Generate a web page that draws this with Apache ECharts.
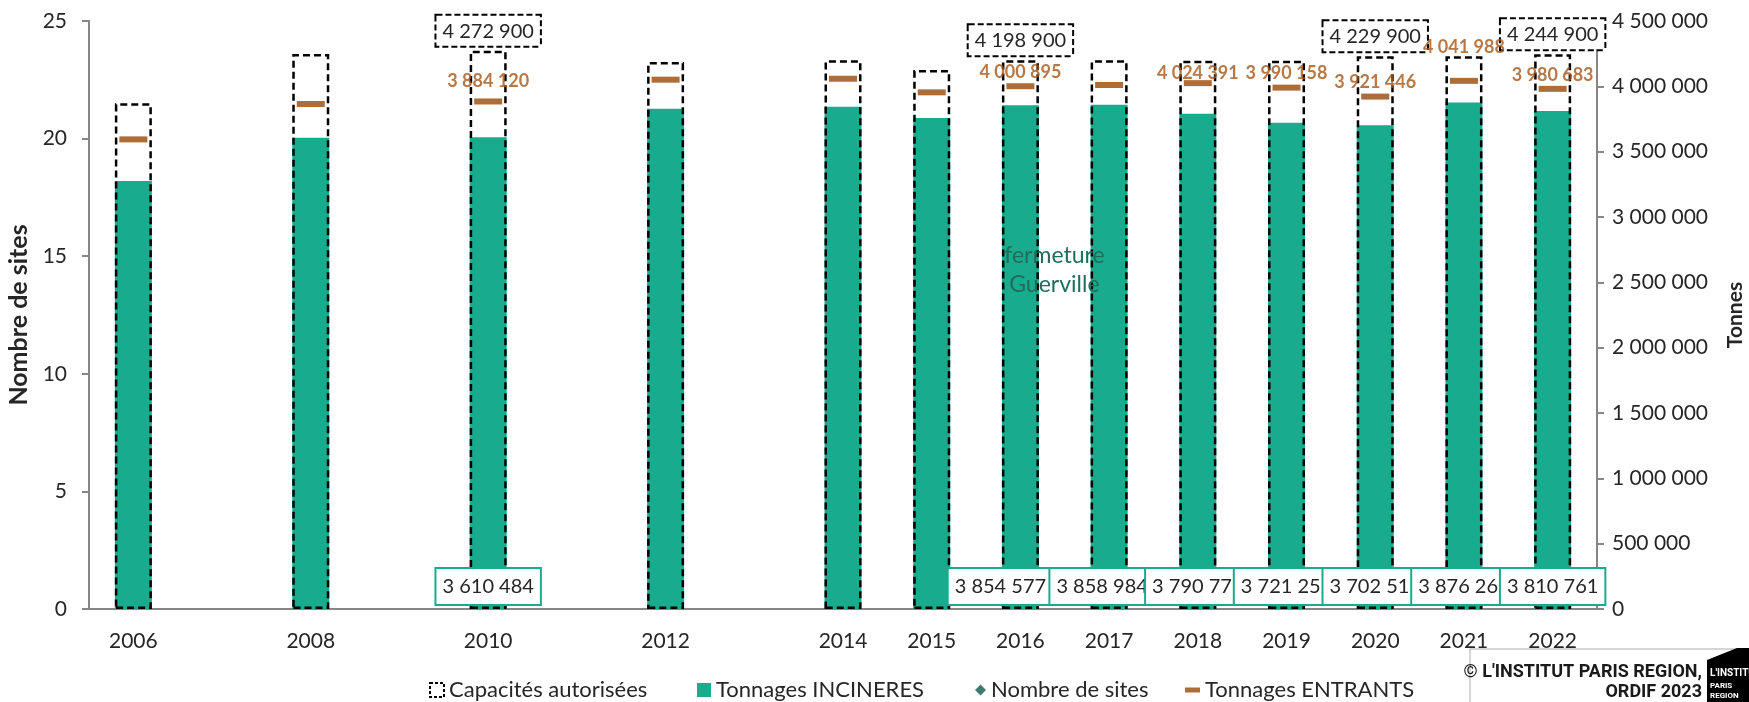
<!DOCTYPE html>
<html>
<head>
<meta charset="utf-8">
<script src="https://cdn.jsdelivr.net/npm/echarts@6/dist/echarts.min.js"></script>
<style>
  html, body { margin: 0; padding: 0; background: #fff; }
  #chart { width: 1749px; height: 702px; }
</style>
</head>
<body>
<div id="chart"></div>
<script>
// années (2007, 2009, 2011, 2013 : pas de données)
const years = ['2006', '2007', '2008', '2009', '2010', '2011', '2012', '2013', '2014',
  '2015', '2016', '2017', '2018', '2019', '2020', '2021', '2022'];

const capacites = [3870000, null, 4247000, null, 4272900, null, 4186000, null, 4199000,
  4125000, 4198900, 4199000, 4196000, 4196000, 4229900, 4230000, 4244900];

const incineres = [3275000, null, 3607000, null, 3610484, null, 3829000, null, 3844000,
  3758000, 3854577, 3858984, 3790773, 3721252, 3702515, 3876267, 3810761];

const entrants = [3594000, null, 3865000, null, 3884120, null, 4051000, null, 4058000,
  3954000, 4000895, 4010000, 4024391, 3990158, 3921446, 4041988, 3980683];

// nombre de sites : aucun point visible sur le graphique
const sites = [];

// années dont la valeur est affichée
const incLabelYears = ['2010', '2016', '2017', '2018', '2019', '2020', '2021', '2022'];
const capLabelYears = ['2010', '2016', '2020', '2022'];
const entLabelYears = ['2010', '2016', '2018', '2019', '2020', '2021', '2022'];

// petits décalages des étiquettes (comme dans Excel)
const incLabelOffset = { '2016': [-20, 0], '2017': [-7, 0] };
const entLabelOffset = { '2010': [0, -6], '2018': [0, 4], '2021': [0, -20] };

const TEAL = '#19AB8D';
const BROWN = '#984807';
const BROWN_TXT = '#A5561A';
const AXIS = '#868686';
const TXT = '#262626';
const FONT = 'Lato';

function fmt(v) {
  return String(v).replace(/\B(?=(\d{3})+(?!\d))/g, ' ');
}

// une légende par entrée pour caler les positions comme dans l'original
function legendItem(left, item, w, h) {
  return {
    left: left,
    top: 674,
    itemWidth: w || 14,
    itemHeight: h || 14,
    itemGap: 8,
    textStyle: { fontFamily: FONT, fontSize: 22, color: TXT },
    data: [item]
  };
}

const chart = echarts.init(document.getElementById('chart'));

const option = {
  animation: false,
  textStyle: { fontFamily: FONT },
  grid: { left: 89, right: 152, top: 21, bottom: 93, outerBoundsMode: 'none', containLabel: false },
  legend: [
    legendItem(424, { name: 'Capacités autorisées', icon: 'rect',
      itemStyle: { color: '#fff', borderColor: '#000', borderWidth: 2, borderType: [3, 2] } }),
    legendItem(692, { name: 'Tonnages INCINERES', icon: 'rect' }),
    legendItem(970, { name: 'Nombre de sites', icon: 'diamond' }, 11, 11),
    legendItem(1180, { name: 'Tonnages ENTRANTS', icon: 'rect' }, 15, 5)
  ],
  xAxis: {
    type: 'category',
    data: years,
    axisLine: { lineStyle: { color: AXIS, width: 2 } },
    axisTick: { length: 8, lineStyle: { color: AXIS, width: 2 } },
    axisLabel: {
      interval: 0,
      margin: 22,
      fontSize: 21,
      color: TXT,
      formatter: (v, i) => (incineres[i] == null ? '' : v)
    }
  },
  yAxis: [
    {
      type: 'value',
      min: 0, max: 25, interval: 5,
      name: 'Nombre de sites',
      nameLocation: 'middle',
      nameRotate: 90,
      nameGap: 58,
      nameTextStyle: { fontSize: 25, fontWeight: 'bold', color: TXT },
      axisLine: { show: true, lineStyle: { color: AXIS, width: 2 } },
      axisTick: { show: true, length: 7, lineStyle: { color: AXIS, width: 2 } },
      axisLabel: { fontSize: 21, color: TXT, margin: 22 },
      splitLine: { show: false }
    },
    {
      type: 'value',
      position: 'right',
      min: 0, max: 4500000, interval: 500000,
      name: 'Tonnes',
      nameLocation: 'middle',
      nameRotate: 90,
      nameGap: 128,
      nameTextStyle: { fontSize: 21, fontWeight: 'bold', color: TXT },
      axisLine: { show: true, lineStyle: { color: AXIS, width: 2 } },
      axisTick: { show: true, length: 7, lineStyle: { color: AXIS, width: 2 } },
      axisLabel: { fontSize: 21, color: TXT, margin: 15, formatter: fmt },
      splitLine: { show: false }
    }
  ],
  series: [
    {
      name: 'Tonnages INCINERES',
      type: 'bar',
      yAxisIndex: 1,
      barWidth: 37,
      barGap: '-100%',
      itemStyle: { color: TEAL },
      label: {
        position: 'insideBottom',
        distance: 5,
        fontSize: 20,
        lineHeight: 20,
        color: TXT,
        backgroundColor: '#fff',
        borderColor: TEAL,
        borderWidth: 2,
        padding: [8, 6, 7, 6],
        formatter: p => fmt(p.value)
      },
      data: incineres.map((v, i) => ({
        value: v,
        label: { show: incLabelYears.includes(years[i]), offset: incLabelOffset[years[i]] || [0, 0] }
      })),
      markPoint: {
        symbol: 'circle',
        symbolSize: 0,
        label: {
          show: true,
          formatter: 'fermeture\nGuerville',
          fontSize: 23,
          lineHeight: 29,
          color: '#1E6E5C',
          offset: [34, 1]
        },
        data: [{ coord: ['2016', 2600000] }]
      }
    },
    {
      name: 'Capacités autorisées',
      type: 'bar',
      yAxisIndex: 1,
      barWidth: 37,
      barGap: '-100%',
      itemStyle: {
        color: 'rgba(0,0,0,0)',
        borderColor: '#000',
        borderWidth: 2.5,
        borderType: [7, 4]
      },
      label: {
        position: 'top',
        distance: 5,
        fontSize: 20,
        lineHeight: 19,
        color: TXT,
        backgroundColor: '#fff',
        borderColor: '#000',
        borderWidth: 2,
        borderType: [6, 3],
        padding: [6, 6, 5, 6],
        formatter: p => fmt(p.value)
      },
      data: capacites.map((v, i) => ({
        value: v,
        label: { show: capLabelYears.includes(years[i]) }
      }))
    },
    {
      name: 'Nombre de sites',
      type: 'scatter',
      yAxisIndex: 0,
      symbol: 'diamond',
      symbolSize: 10,
      itemStyle: { color: '#0D5B4A' },
      data: sites
    },
    {
      name: 'Tonnages ENTRANTS',
      type: 'scatter',
      yAxisIndex: 1,
      symbol: 'rect',
      symbolSize: [28, 6],
      itemStyle: { color: BROWN },
      label: {
        position: 'top',
        distance: 2,
        fontSize: 18,
        fontWeight: 'bold',
        color: BROWN_TXT,
        formatter: p => fmt(p.value)
      },
      data: entrants.map((v, i) => ({
        value: v,
        label: { show: entLabelYears.includes(years[i]), offset: entLabelOffset[years[i]] || [0, 0] }
      }))
    }
  ],
  graphic: [
    { type: 'line', shape: { x1: 1470, y1: 649, x2: 1470, y2: 702 }, style: { stroke: '#c8c8c8', lineWidth: 1.5 } },
    { type: 'line', shape: { x1: 1470, y1: 649, x2: 1749, y2: 649 }, style: { stroke: '#c8c8c8', lineWidth: 1.5 } },
    { type: 'text', right: 47, top: 663,
      style: { text: '© L\'INSTITUT PARIS REGION,', font: 'bold 18px Roboto', fill: '#1a1a1a', textAlign: 'right' } },
    { type: 'text', right: 47, top: 683,
      style: { text: 'ORDIF 2023', font: 'bold 18px Roboto', fill: '#1a1a1a', textAlign: 'right' } },
    { type: 'polygon', shape: { points: [[1707, 660], [1737, 648], [1749, 648], [1749, 702], [1707, 702]] },
      style: { fill: '#000' } },
    { type: 'text', left: 1710, top: 668, style: { text: 'L\'INSTITUT', font: 'bold 10px Roboto', fill: '#fff' } },
    { type: 'text', left: 1710, top: 682, style: { text: 'PARIS', font: 'bold 8px Roboto', fill: '#fff' } },
    { type: 'text', left: 1710, top: 692, style: { text: 'REGION', font: 'bold 8px Roboto', fill: '#fff' } }
  ]
};

chart.setOption(option);
</script>
</body>
</html>
